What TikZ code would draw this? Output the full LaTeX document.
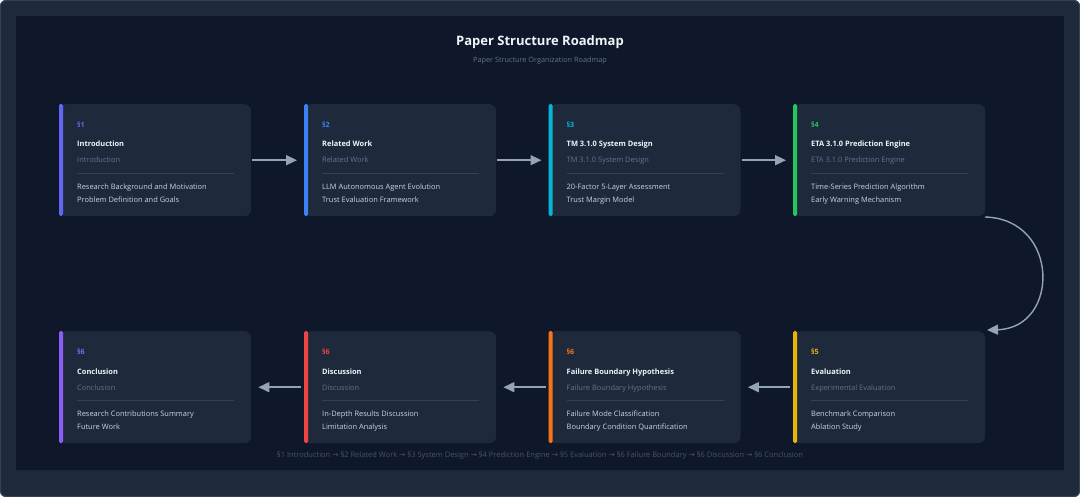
\documentclass[tikz,border=0pt]{standalone}
\usepackage{fontspec}
\setmainfont{Open Sans}
\newfontfamily\symf{DejaVu Sans}
\usetikzlibrary{arrows.meta}
\definecolor{outerbg}{HTML}{1E293B}
\definecolor{outerln}{HTML}{334155}
\definecolor{panel}{HTML}{0F172A}
\definecolor{cardbg}{HTML}{1E293B}
\definecolor{sepc}{HTML}{334155}
\definecolor{titlec}{HTML}{F1F5F9}
\definecolor{subc}{HTML}{64748B}
\definecolor{itemc}{HTML}{CBD5E1}
\definecolor{arrc}{HTML}{94A3B8}
\definecolor{footc}{HTML}{475569}
\definecolor{cA}{HTML}{6366F1}
\definecolor{cB}{HTML}{3B82F6}
\definecolor{cC}{HTML}{06B6D4}
\definecolor{cD}{HTML}{22C55E}
\definecolor{cE}{HTML}{EAB308}
\definecolor{cF}{HTML}{F97316}
\definecolor{cG}{HTML}{EF4444}
\definecolor{cH}{HTML}{8B5CF6}
\tikzset{
  card/.style={fill=cardbg, rounded corners=7pt, minimum width=192pt, minimum height=112pt, inner sep=0pt, draw=none},
  sectxt/.style={anchor=base west, inner sep=0pt, font=\bfseries\fontsize{7.2}{8}\selectfont},
  ttltxt/.style={anchor=base west, inner sep=0pt, text=titlec, font=\bfseries\fontsize{7.45}{8}\selectfont},
  subtxt/.style={anchor=base west, inner sep=0pt, text=subc, font=\fontsize{7.45}{8}\selectfont},
  itmtxt/.style={anchor=base west, inner sep=0pt, text=itemc, font=\fontsize{7.45}{8}\selectfont},
  arr/.style={draw=arrc, line width=1.6pt, -{Triangle[length=11pt,width=10pt]}},
}
\newcommand\mycard[9]{%
  \node[card, anchor=north west] (#1) at (#2,#3) {};
  \fill[#4, rounded corners=1.5pt] (#2,#3) rectangle ++(4,112);
  \node[sectxt, text=#4] (#1s) at (#2+18,#3+24) {#5};
  \node[ttltxt] (#1t) at (#2+18,#3+43) {#6};
  \node[subtxt] (#1u) at (#2+18,#3+59) {#7};
  \draw[sepc, line width=0.8pt] (#2+18,#3+69) -- (#2+175,#3+69);
  \node[itmtxt] (#1a) at (#2+18,#3+85.5) {#8};
  \node[itmtxt] (#1b) at (#2+18,#3+98.5) {#9};
}
\begin{document}
\begin{tikzpicture}[x=1pt,y=-1pt]
\useasboundingbox (0,0) rectangle (1080,497);
\fill[outerbg, rounded corners=6pt] (0,0) rectangle (1080,497);
\draw[outerln, line width=1pt, rounded corners=6pt] (0.5,0.5) rectangle (1079.5,496.5);
\fill[panel] (16,16) rectangle (1064,470);
\node[text=titlec, font=\bfseries\fontsize{13}{15}\selectfont, anchor=base] (title) at (540,46) {Paper Structure Roadmap};
\node[text=subc, font=\fontsize{7.3}{8}\selectfont, anchor=base] (subtitle) at (540,62.5) {Paper Structure Organization Roadmap};

\mycard{c1}{59}{104}{cA}{§1}{Introduction}{Introduction}{Research Background and Motivation}{Problem Definition and Goals}
\mycard{c2}{304}{104}{cB}{§2}{Related Work}{Related Work}{LLM Autonomous Agent Evolution}{Trust Evaluation Framework}
\mycard{c3}{548.5}{104}{cC}{§3}{TM 3.1.0 System Design}{TM 3.1.0 System Design}{20-Factor 5-Layer Assessment}{Trust Margin Model}
\mycard{c4}{793}{104}{cD}{§4}{ETA 3.1.0 Prediction Engine}{ETA 3.1.0 Prediction Engine}{Time-Series Prediction Algorithm}{Early Warning Mechanism}
\mycard{c5}{793}{331}{cE}{§5}{Evaluation}{Experimental Evaluation}{Benchmark Comparison}{Ablation Study}
\mycard{c6}{548.5}{331}{cF}{§6}{Failure Boundary Hypothesis}{Failure Boundary Hypothesis}{Failure Mode Classification}{Boundary Condition Quantification}
\mycard{c7}{304}{331}{cG}{§6}{Discussion}{Discussion}{In-Depth Results Discussion}{Limitation Analysis}
\mycard{c8}{59}{331}{cH}{§6}{Conclusion}{Conclusion}{Research Contributions Summary}{Future Work}

\draw[arr, shorten <=1pt, shorten >=7pt] (c1.east) -- (c2.west);
\draw[arr, shorten <=1pt, shorten >=7pt] (c2.east) -- (c3.west);
\draw[arr, shorten <=1pt, shorten >=7pt] (c3.east) -- (c4.west);
\draw[arr, shorten <=3pt, shorten >=7pt] (c5.west) -- (c6.east);
\draw[arr, shorten <=3pt, shorten >=7pt] (c6.west) -- (c7.east);
\draw[arr, shorten <=3pt, shorten >=7pt] (c7.west) -- (c8.east);
\coordinate (cs) at (985,217);
\coordinate (ce) at (987,330);
\draw[draw=arrc, line width=1.4pt, -{Triangle[length=11pt,width=10pt]}] (cs) .. controls (1060,219) and (1060,328) .. (ce);

\node[text=footc, font=\fontsize{7.5}{9}\selectfont, anchor=base] (footer) at (540,457) {§1 Introduction {\symf →} §2 Related Work {\symf →} §3 System Design {\symf →} §4 Prediction Engine {\symf →} §5 Evaluation {\symf →} §6 Failure Boundary {\symf →} §6 Discussion {\symf →} §6 Conclusion};
\end{tikzpicture}
\end{document}
